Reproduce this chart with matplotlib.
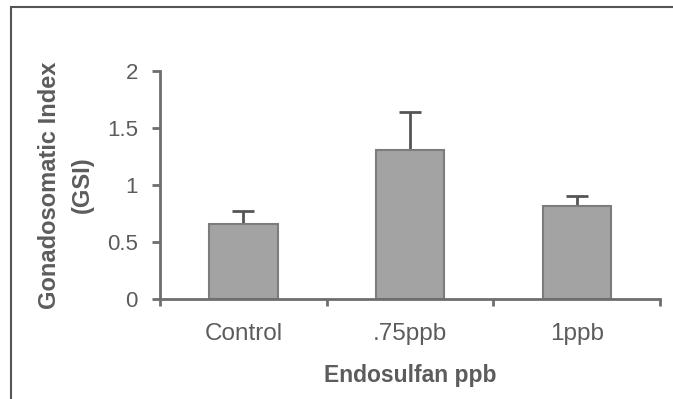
import numpy as np
import matplotlib
matplotlib.use("Agg")
from matplotlib import pyplot as plt
from matplotlib.lines import Line2D

plt.rcParams['font.family'] = ['Liberation Sans', 'DejaVu Sans']

"DATA"
groups = ['Control', '.75ppb', '1ppb']
gsi = [0.66, 1.31, 0.82]
gsi_err = [0.11, 0.33, 0.08]
y_ticks = [0, 0.5, 1, 1.5, 2]
y_tick_labels = ['0', '0.5', '1', '1.5', '2']

txt = '#5c5c5c'
axc = '#6e6e6e'

fig = plt.figure(figsize=(6.73, 3.99), dpi=100)
ax = fig.add_axes([160/673, 1-299/399, 500/673, 228/399])

x = np.arange(len(groups))
ax.bar(x, gsi, width=0.41, color='#a3a3a3', edgecolor='#7c7c7c', linewidth=1.5, zorder=2)
ax.errorbar(x, gsi, yerr=[np.zeros(len(gsi)), gsi_err], fmt='none',
            ecolor='#555555', elinewidth=2, capsize=8, capthick=2, zorder=1)

ax.set_xlim(-0.5, 2.5)
ax.set_ylim(0, 2)

for s in ['top', 'right']:
    ax.spines[s].set_visible(False)
for s in ['left', 'bottom']:
    ax.spines[s].set_color(axc)
    ax.spines[s].set_linewidth(2)

ax.set_yticks(y_ticks)
ax.set_yticklabels(y_tick_labels)
ax.tick_params(axis='y', colors=axc, labelcolor=txt, labelsize=16, width=2, length=6, pad=10)

ax.set_xticks(x)
ax.set_xticklabels(groups)
ax.tick_params(axis='x', which='major', length=0, labelcolor=txt, labelsize=17.5, pad=17)
ax.set_xticks([-0.5, 0.5, 1.5, 2.5], minor=True)
ax.tick_params(axis='x', which='minor', colors=axc, width=2, length=5)

ax.set_xlabel('Endosulfan ppb', fontsize=16.5, fontweight='bold', color=txt, labelpad=14)
ax.set_ylabel('Gonadosomatic Index\n(GSI)', fontsize=17, fontweight='bold', color=txt,
              labelpad=9, linespacing=1.55)

"FRAME"
fig.add_artist(Line2D([11/673, 11/673], [0, 1-7/399], color='#555555', lw=1.5, transform=fig.transFigure))
fig.add_artist(Line2D([11/673, 1], [1-7/399, 1-7/399], color='#555555', lw=1.5, transform=fig.transFigure))

fig.savefig('out.png', dpi=100)
